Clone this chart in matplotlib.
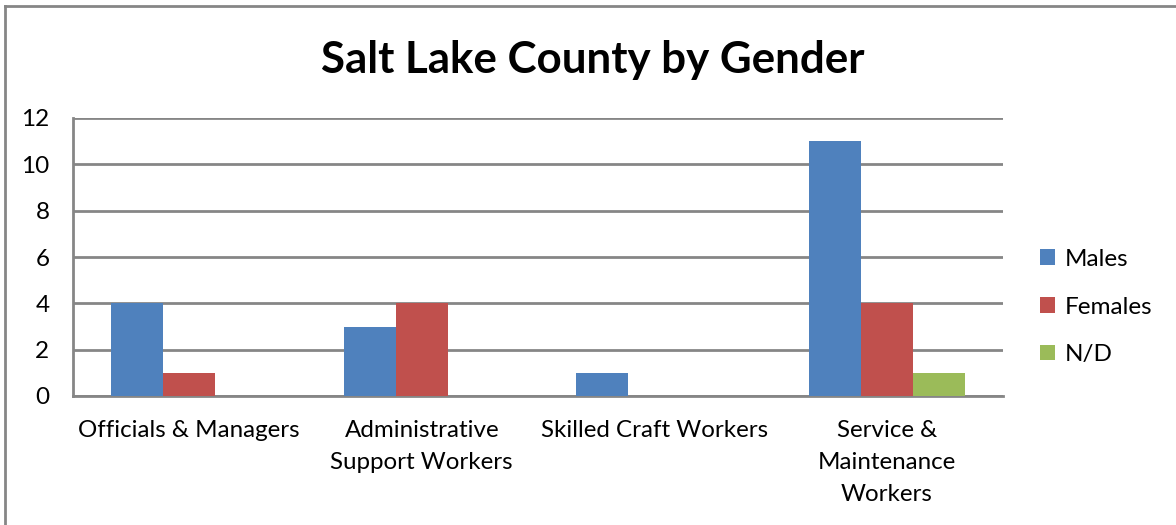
import numpy as np
import matplotlib.pyplot as plt
from matplotlib.lines import Line2D

plt.rcParams['font.family'] = ['Lato', 'DejaVu Sans']

categories = ["Officials & Managers", "Administrative\nSupport Workers",
              "Skilled Craft Workers", "Service &\nMaintenance\nWorkers"]
series = ["Males", "Females", "N/D"]
males = [4, 3, 1, 11]
females = [1, 4, 0, 4]
nd = [0, 0, 0, 1]
colors = ["#4F81BD", "#C0504D", "#9BBB59"]
yticks = [0, 2, 4, 6, 8, 10, 12]

fig = plt.figure(figsize=(11.76, 5.25), dpi=100)
ax = fig.add_axes([73 / 1176, 1 - 396 / 525, 930 / 1176, 278 / 525])

x = np.arange(len(categories))
w = 0.224
for i, (name, vals) in enumerate(zip(series, [males, females, nd])):
    ax.bar(x + (i - 1) * w, vals, w, color=colors[i], label=name, zorder=3)

ax.set_xlim(-0.5, len(categories) - 0.5)
ax.set_ylim(0, 12)
ax.set_yticks(yticks)
ax.set_xticks(x)
ax.set_xticklabels(categories, fontsize=17.4, linespacing=1.65)
ax.tick_params(axis='y', labelsize=17.5, length=0, pad=17)
ax.tick_params(axis='x', length=0, pad=17)
ax.yaxis.grid(True, color="#868686", linewidth=2, zorder=0)
for s in ["top", "right"]:
    ax.spines[s].set_visible(False)
for s in ["left", "bottom"]:
    ax.spines[s].set_color("#868686")
    ax.spines[s].set_linewidth(2)

fig.text(593 / 1176, 1 - 60 / 525, "Salt Lake County by Gender", ha="center", va="center",
         fontsize=31.6, fontweight="bold")

fig.legend(loc="center left", bbox_to_anchor=(1040 / 1176, 1 - 307 / 525), frameon=False,
           fontsize=17.5, handlelength=0.6, handleheight=0.6, handletextpad=0.4,
           labelspacing=1.1, borderaxespad=0, borderpad=0)

# outer chart border
fig.add_artist(Line2D([5 / 1176, 5 / 1176], [0, 1 - 6 / 525], color="#868686", linewidth=2))
fig.add_artist(Line2D([5 / 1176, 1], [1 - 6 / 525, 1 - 6 / 525], color="#868686", linewidth=2))

fig.savefig("out.png", dpi=100)
